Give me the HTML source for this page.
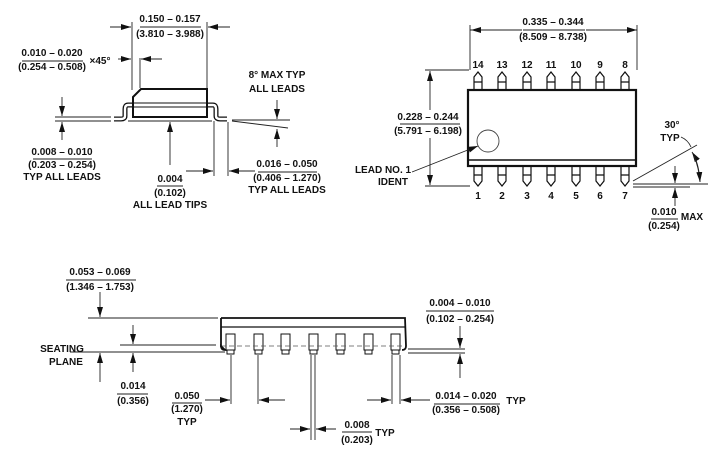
<!DOCTYPE html>
<html><head><meta charset="utf-8"><style>
html,body{margin:0;padding:0;background:#fff;}
svg{display:block}
text{font-family:"Liberation Sans Narrow","Liberation Sans",sans-serif;font-weight:bold;font-size:10px;fill:#111;text-anchor:middle}
.l{stroke:#222;stroke-width:0.9;fill:none}
.b{stroke:#111;stroke-width:2;fill:#fff}
</style></head><body>
<svg width="720" height="470" viewBox="0 0 720 470" xmlns="http://www.w3.org/2000/svg">
<defs>
<marker id="a" viewBox="0 0 10 6" refX="10" refY="3" markerWidth="10" markerHeight="6" markerUnits="userSpaceOnUse" orient="auto"><path d="M0,0L10,3L0,6z" fill="#111"/></marker>
</defs>
<rect x="0" y="0" width="720" height="470" fill="#fff"/>

<!-- ===== TOP LEFT side view ===== -->
<text x="170" y="22">0.150 – 0.157</text><line class="l" x1="140" y1="27" x2="201" y2="27"/><text x="170" y="37">(3.810 – 3.988)</text>
<line class="l" x1="132" y1="22" x2="132" y2="90"/><line class="l" x1="207" y1="22" x2="207" y2="89"/>
<line class="l" x1="110" y1="27" x2="131" y2="27" marker-end="url(#a)"/>
<line class="l" x1="230" y1="27" x2="208" y2="27" marker-end="url(#a)"/>
<text x="52" y="56">0.010 – 0.020</text><line class="l" x1="22" y1="61" x2="83" y2="61"/><text x="52" y="70">(0.254 – 0.508)</text>
<text x="100" y="64">×45°</text>
<line class="l" x1="118" y1="59" x2="131" y2="59" marker-end="url(#a)"/>
<line class="l" x1="140" y1="58" x2="140" y2="88"/>
<line class="l" x1="162" y1="59" x2="141" y2="59" marker-end="url(#a)"/>
<!-- leads -->
<path d="M133,105 H128 Q125,105 125,109 V116 Q125,119 121,119 H114" fill="none" stroke="#111" stroke-width="5"/>
<path d="M133,105 H128 Q125,105 125,109 V116 Q125,119 121,119 H114" fill="none" stroke="#fff" stroke-width="2.4"/>
<path d="M208,105 H213 Q216,105 216,109 V116 Q216,119 220,119 H227" fill="none" stroke="#111" stroke-width="5"/>
<path d="M208,105 H213 Q216,105 216,109 V116 Q216,119 220,119 H227" fill="none" stroke="#fff" stroke-width="2.4"/>
<polygon class="b" points="133,97 141,89 207,89 207,117 133,117"/>
<line x1="133" y1="103" x2="207" y2="103" stroke="#111" stroke-width="1"/>
<line x1="133" y1="107" x2="207" y2="107" stroke="#111" stroke-width="1"/>
<line class="l" x1="55" y1="117" x2="111" y2="117"/><line class="l" x1="55" y1="121" x2="111" y2="121"/>
<line class="l" x1="128" y1="121" x2="212" y2="121"/>
<line class="l" x1="62" y1="97" x2="62" y2="116" marker-end="url(#a)"/>
<line class="l" x1="62" y1="140" x2="62" y2="122" marker-end="url(#a)"/>
<text x="62" y="155">0.008 – 0.010</text><line class="l" x1="33" y1="159" x2="92" y2="159"/><text x="62" y="168">(0.203 – 0.254)</text><text x="62" y="180">TYP ALL LEADS</text>
<line class="l" x1="170" y1="165" x2="170" y2="122" marker-end="url(#a)"/>
<text x="170" y="182">0.004</text><line class="l" x1="157" y1="186" x2="183" y2="186"/><text x="170" y="196">(0.102)</text><text x="170" y="208">ALL LEAD TIPS</text>
<line class="l" x1="214" y1="121" x2="214" y2="176"/><line class="l" x1="228" y1="122" x2="228" y2="176"/>
<line class="l" x1="186" y1="171" x2="213" y2="171" marker-end="url(#a)"/>
<line class="l" x1="255" y1="171" x2="229" y2="171" marker-end="url(#a)"/>
<text x="287" y="167">0.016 – 0.050</text><line class="l" x1="258" y1="172" x2="317" y2="172"/><text x="287" y="181">(0.406 – 1.270)</text><text x="287" y="193">TYP ALL LEADS</text>
<text x="277" y="78">8° MAX TYP</text><text x="277" y="92">ALL LEADS</text>
<line class="l" x1="277" y1="100" x2="277" y2="119" marker-end="url(#a)"/>
<line class="l" x1="232" y1="120" x2="290" y2="120"/>
<line class="l" x1="232" y1="121" x2="288" y2="128"/>
<line class="l" x1="277" y1="147" x2="277" y2="129" marker-end="url(#a)"/>

<!-- ===== TOP RIGHT top view ===== -->
<text x="553" y="25">0.335 – 0.344</text><line class="l" x1="523" y1="30" x2="585" y2="30"/><text x="553" y="40">(8.509 – 8.738)</text>
<line class="l" x1="470" y1="30" x2="522" y2="30" marker-start="url(#a)" style="marker-start:none"/>
<line class="l" x1="522" y1="30" x2="471" y2="30" marker-end="url(#a)"/>
<line class="l" x1="586" y1="30" x2="637" y2="30" marker-end="url(#a)"/>
<line class="l" x1="470" y1="25" x2="470" y2="70"/><line class="l" x1="637" y1="25" x2="637" y2="70"/>
<g id="pins">
<text x="478" y="68">14</text><text x="502" y="68">13</text><text x="527" y="68">12</text><text x="551" y="68">11</text><text x="576" y="68">10</text><text x="600" y="68">9</text><text x="625" y="68">8</text>
<text x="478" y="199">1</text><text x="502" y="199">2</text><text x="527" y="199">3</text><text x="551" y="199">4</text><text x="576" y="199">5</text><text x="600" y="199">6</text><text x="625" y="199">7</text>
</g>
<g stroke="#111" stroke-width="1.2" fill="#fff">
<path d="M474,90V77l4,-5l4,5V90M474,82H482"/><path d="M498,90V77l4,-5l4,5V90M498,82H506"/><path d="M523,90V77l4,-5l4,5V90M523,82H531"/><path d="M547,90V77l4,-5l4,5V90M547,82H555"/><path d="M572,90V77l4,-5l4,5V90M572,82H580"/><path d="M596,90V77l4,-5l4,5V90M596,82H604"/><path d="M621,90V77l4,-5l4,5V90M621,82H629"/>
<path d="M474,167V181l4,5l4,-5V167M474,175H482"/><path d="M498,167V181l4,5l4,-5V167M498,175H506"/><path d="M523,167V181l4,5l4,-5V167M523,175H531"/><path d="M547,167V181l4,5l4,-5V167M547,175H555"/><path d="M572,167V181l4,5l4,-5V167M572,175H580"/><path d="M596,167V181l4,5l4,-5V167M596,175H604"/><path d="M621,167V181l4,5l4,-5V167M621,175H629"/>
</g>
<rect x="468" y="90" width="168" height="76" fill="#fff" stroke="#111" stroke-width="2.2"/>
<line x1="468" y1="160" x2="636" y2="160" stroke="#111" stroke-width="1.4"/>
<circle cx="488" cy="141" r="11" fill="none" stroke="#444" stroke-width="0.9"/>
<line class="l" x1="425" y1="70" x2="469" y2="70"/><line class="l" x1="425" y1="186" x2="470" y2="186"/>
<line class="l" x1="430" y1="110" x2="430" y2="71" marker-end="url(#a)"/>
<line class="l" x1="430" y1="138" x2="430" y2="185" marker-end="url(#a)"/>
<text x="428" y="120">0.228 – 0.244</text><line class="l" x1="400" y1="124" x2="460" y2="124"/><text x="428" y="134">(5.791 – 6.198)</text>
<line class="l" x1="412" y1="172" x2="478" y2="146" marker-end="url(#a)"/>
<text x="383" y="173">LEAD NO. 1</text><text x="393" y="185">IDENT</text>
<text x="672" y="128">30°</text><text x="670" y="141">TYP</text>
<path class="l" d="M681,137 Q688,140 691,147"/>
<line class="l" x1="633" y1="181" x2="697" y2="145"/>
<line class="l" x1="633" y1="184" x2="708" y2="184"/>
<path class="l" d="M700,182 Q699,163 692,152" marker-end="url(#a)"/>
<path class="l" d="M694,156 Q699,168 700,182" marker-end="url(#a)"/>
<line class="l" x1="633" y1="187" x2="690" y2="187"/>
<line class="l" x1="675" y1="166" x2="675" y2="183" marker-end="url(#a)"/>
<line class="l" x1="675" y1="206" x2="675" y2="188" marker-end="url(#a)"/>
<text x="664" y="215">0.010</text><line class="l" x1="651" y1="219" x2="678" y2="219"/><text x="664" y="229">(0.254)</text><text x="692" y="220">MAX</text>

<!-- ===== BOTTOM side view ===== -->
<text x="100" y="275">0.053 – 0.069</text><line class="l" x1="66" y1="280" x2="136" y2="280"/><text x="100" y="290">(1.346 – 1.753)</text>
<line class="l" x1="100" y1="292" x2="100" y2="317" marker-end="url(#a)"/>
<line class="l" x1="88" y1="318" x2="218" y2="318"/>
<line class="l" x1="120" y1="345" x2="216" y2="345"/>
<line class="l" x1="70" y1="352" x2="225" y2="352"/>
<line class="l" x1="133" y1="325" x2="133" y2="344" marker-end="url(#a)"/>
<line class="l" x1="133" y1="372" x2="133" y2="353" marker-end="url(#a)"/>
<line class="l" x1="100" y1="382" x2="100" y2="353" marker-end="url(#a)"/>
<text x="62" y="352">SEATING</text><text x="66" y="365">PLANE</text>
<text x="133" y="389">0.014</text><line class="l" x1="117" y1="394" x2="148" y2="394"/><text x="133" y="404">(0.356)</text>
<g stroke="#111" stroke-width="1" fill="#fff">
<rect x="226" y="334" width="9" height="16"/><rect x="254" y="334" width="9" height="16"/><rect x="281" y="334" width="9" height="16"/><rect x="309" y="334" width="9" height="16"/><rect x="336" y="334" width="9" height="16"/><rect x="364" y="334" width="9" height="16"/><rect x="391" y="334" width="9" height="16"/>
<rect x="227" y="350" width="7" height="4"/><rect x="255" y="350" width="7" height="4"/><rect x="282" y="350" width="7" height="4"/><rect x="310" y="350" width="7" height="4"/><rect x="337" y="350" width="7" height="4"/><rect x="365" y="350" width="7" height="4"/><rect x="392" y="350" width="7" height="4"/>
</g>
<path d="M221,318 H405 L406,346 Q406,350 402,350 M225,350 Q221,350 221,346 Z" fill="none" stroke="#111" stroke-width="1.8"/>
<line x1="221" y1="327" x2="405" y2="327" stroke="#111" stroke-width="1.2"/>
<line x1="221" y1="346" x2="405" y2="346" stroke="#555" stroke-width="0.8" stroke-dasharray="5,3"/>
<line x1="221" y1="318" x2="221" y2="347" stroke="#111" stroke-width="1.8"/>
<line class="l" x1="231" y1="355" x2="231" y2="404"/><line class="l" x1="258" y1="355" x2="258" y2="404"/>
<line class="l" x1="205" y1="400" x2="230" y2="400" marker-end="url(#a)"/>
<line class="l" x1="285" y1="400" x2="259" y2="400" marker-end="url(#a)"/>
<text x="187" y="399">0.050</text><line class="l" x1="172" y1="403" x2="202" y2="403"/><text x="187" y="412">(1.270)</text><text x="187" y="425">TYP</text>
<line class="l" x1="311" y1="355" x2="311" y2="440"/><line class="l" x1="315" y1="355" x2="315" y2="440"/>
<line class="l" x1="290" y1="429" x2="310" y2="429" marker-end="url(#a)"/>
<line class="l" x1="336" y1="429" x2="316" y2="429" marker-end="url(#a)"/>
<text x="357" y="428">0.008</text><line class="l" x1="342" y1="432" x2="372" y2="432"/><text x="357" y="443">(0.203)</text><text x="385" y="436">TYP</text>
<line class="l" x1="392" y1="355" x2="392" y2="404"/><line class="l" x1="400" y1="355" x2="400" y2="404"/>
<line class="l" x1="367" y1="400" x2="391" y2="400" marker-end="url(#a)"/>
<line class="l" x1="430" y1="400" x2="401" y2="400" marker-end="url(#a)"/>
<text x="466" y="399">0.014 – 0.020</text><line class="l" x1="434" y1="404" x2="500" y2="404"/><text x="466" y="413">(0.356 – 0.508)</text><text x="516" y="404">TYP</text>
<text x="460" y="306">0.004 – 0.010</text><line class="l" x1="426" y1="311" x2="494" y2="311"/><text x="460" y="322">(0.102 – 0.254)</text>
<line class="l" x1="408" y1="349" x2="465" y2="349"/><line class="l" x1="408" y1="353" x2="465" y2="353"/>
<line class="l" x1="460" y1="326" x2="460" y2="348" marker-end="url(#a)"/>
<line class="l" x1="460" y1="378" x2="460" y2="354" marker-end="url(#a)"/>
</svg>
</body></html>
